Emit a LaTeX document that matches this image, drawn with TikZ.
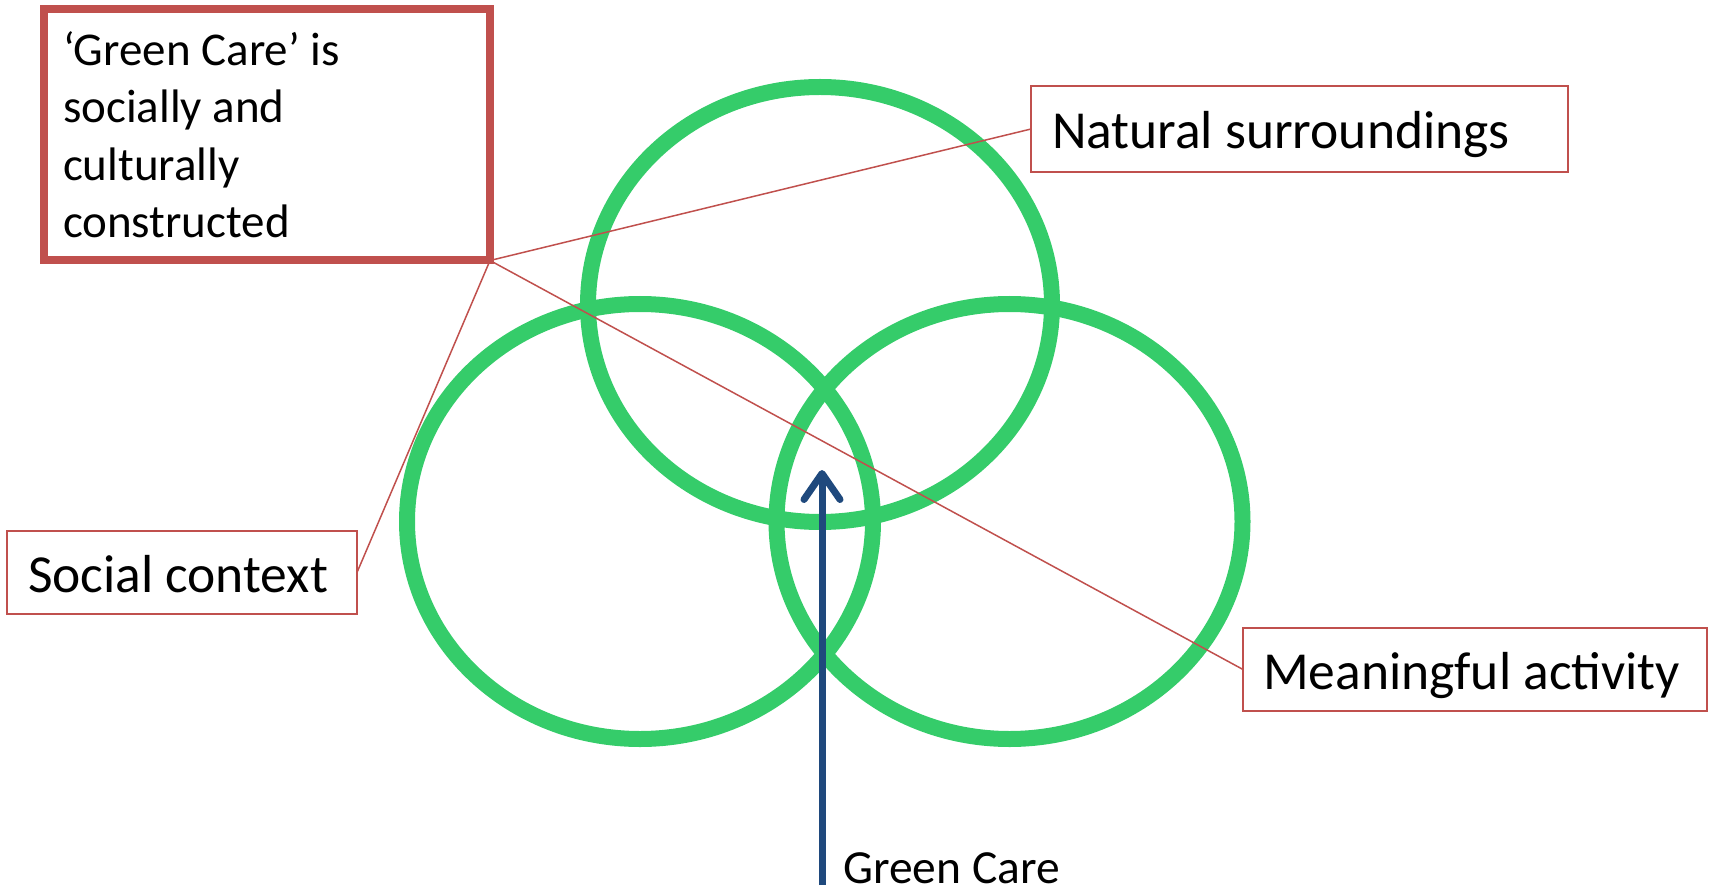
\documentclass[tikz,border=0pt]{standalone}
\usepackage{fontspec}
\setmainfont{Carlito}
\usetikzlibrary{arrows.meta}
\definecolor{ringgreen}{RGB}{53,204,106}
\definecolor{boxred}{RGB}{192,80,77}
\definecolor{arrowblue}{RGB}{31,73,125}
\begin{document}
\begin{tikzpicture}[x=1pt,y=-1pt,
  ring/.style={draw=ringgreen,line width=16pt},
  labelbox/.style={draw=boxred,line width=1.5pt,fill=white,rectangle,anchor=north west,
    outer sep=0pt,inner xsep=21pt,inner ysep=0pt,align=flush left,
    font=\fontsize{53.5}{64}\selectfont,text height=42pt,text depth=2pt},
  mainbox/.style={draw=boxred,line width=8pt,fill=white,rectangle,anchor=north west,
    outer sep=0pt,inner xsep=19pt,inner ysep=0pt,align=flush left,text width=408pt,
    minimum height=251.5pt,font=\fontsize{47}{57.5}\selectfont},
  link/.style={draw=boxred,line width=1.5pt},
  bluearrow/.style={draw=arrowblue,line width=7pt,
    -{Straight Barb[length=26pt,width=36pt,round]}}]
\useasboundingbox (0,0) rectangle (1715,890);
% rings
\draw[ring] (820,304.5) ellipse [x radius=232, y radius=217.5];
\draw[ring] (640,521.5) ellipse [x radius=233, y radius=217.5];
\draw[ring] (1009.5,521.5) ellipse [x radius=233, y radius=217.5];
% boxes
\node[mainbox] (gc) at (44,9) {‘Green Care’ is\\socially and\\culturally\\constructed};
\node[labelbox,text width=495pt,minimum height=86pt] (nat) at (1031,86) {\mbox{Natural surroundings}};
\node[labelbox,text width=308pt,minimum height=83pt] (soc) at (7,531) {\mbox{Social context}};
\node[labelbox,text width=424pt,inner xsep=20pt,minimum height=83pt] (mea) at (1243,628) {\mbox{Meaningful activity}};
% links
\draw[link] (gc.south east) -- (nat.west);
\draw[link] (gc.south east) -- (soc.east);
\draw[link] (gc.south east) -- (mea.west);
% arrow
\node[anchor=base west,inner sep=0pt,font=\fontsize{47.5}{56}\selectfont] (gclab) at (843,883) {Green Care};
\coordinate (abase) at (822,885);
\coordinate (atip) at (822,470);
\draw[bluearrow] (abase) -- (atip);
\end{tikzpicture}
\end{document}
